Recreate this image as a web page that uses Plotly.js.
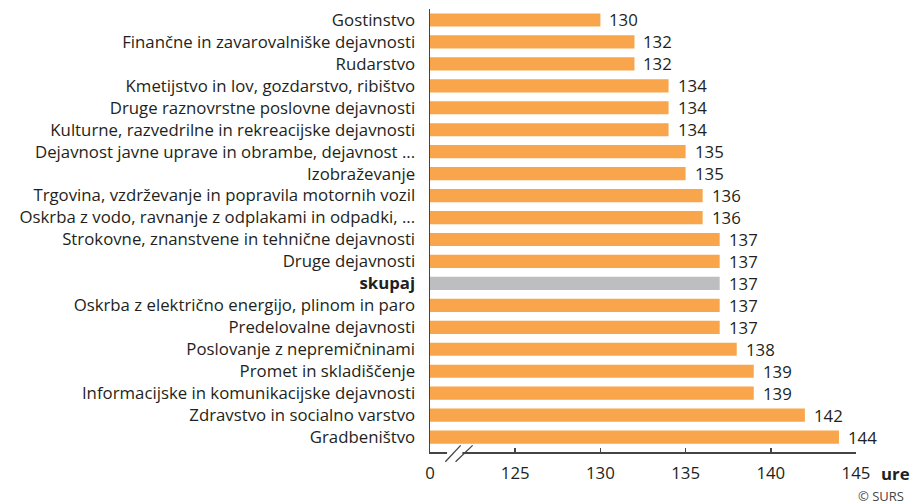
<!DOCTYPE html>
<html><head><meta charset="utf-8">
<script src="https://cdn.plot.ly/plotly-3.0.1.min.js"></script>
<style>body{margin:0;background:#fff}#c{width:910px;height:504px}</style>
</head><body><div id="c"></div>
<script>
const categories = ["Gostinstvo","Finančne in zavarovalniške dejavnosti","Rudarstvo","Kmetijstvo in lov, gozdarstvo, ribištvo","Druge raznovrstne poslovne dejavnosti","Kulturne, razvedrilne in rekreacijske dejavnosti","Dejavnost javne uprave in obrambe, dejavnost ...","Izobraževanje","Trgovina, vzdrževanje in popravila motornih vozil","Oskrba z vodo, ravnanje z odplakami in odpadki, ...","Strokovne, znanstvene in tehnične dejavnosti","Druge dejavnosti","skupaj","Oskrba z električno energijo, plinom in paro","Predelovalne dejavnosti","Poslovanje z nepremičninami","Promet in skladiščenje","Informacijske in komunikacijske dejavnosti","Zdravstvo in socialno varstvo","Gradbeništvo"];
const values = [130,132,132,134,134,134,135,135,136,136,137,137,137,137,137,138,139,139,142,144];
const tickVals = [120,125,130,135,140,145];
const tickText = ["0","125","130","135","140","145"];
const totalLabel = "skupaj";

const orange = "#F9A54B", grey = "#BDBEC0", ink = "#231F20";
const FS = 16.8;
const idx = categories.map((_, i) => i);
const colors = categories.map(c => c === totalLabel ? grey : orange);
const yText = categories.map(c => c === totalLabel ? "<b>" + c + "</b>" : c);

const trace = {
  type: "bar", orientation: "h",
  x: values, y: idx,
  marker: {color: colors, line: {width: 0}},
  hoverinfo: "skip"
};

const annotations = values.map((v, i) => ({
  x: v, y: i, xref: "x", yref: "y", text: String(v), showarrow: false,
  xanchor: "left", xshift: 7, font: {family: "Open Sans", size: FS, color: ink}
}));
annotations.push({xref: "paper", yref: "paper", x: 1, xshift: 23, y: 0, yshift: -21, text: "<b>ure</b>",
  showarrow: false, xanchor: "left", yanchor: "middle", font: {family: "Open Sans", size: FS, color: ink}});
annotations.push({xref: "paper", yref: "paper", x: 1, xshift: 50, y: 0, yshift: -44, text: "© SURS",
  showarrow: false, xanchor: "right", yanchor: "middle", font: {family: "Open Sans", size: 13, color: "#444"}});

const layout = {
  width: 910, height: 504,
  margin: {l: 430, r: 54, t: 9, b: 52},
  paper_bgcolor: "#fff", plot_bgcolor: "#fff",
  showlegend: false, bargap: 0.4,
  font: {family: "Open Sans", color: ink, size: FS},
  xaxis: {range: [120, 145], tickvals: tickVals, ticktext: tickText, showgrid: false, zeroline: false,
    showline: true, linecolor: "#444", linewidth: 1.5, ticks: "inside", ticklen: 4, tickcolor: "#444",
    tickwidth: 1.5, ticklabelstandoff: 5, tickfont: {size: FS, color: ink}, fixedrange: true},
  yaxis: {range: [19.68, -0.5], tickvals: idx, ticktext: yText, showgrid: false, zeroline: false,
    showline: true, linecolor: "#444", linewidth: 1.5, ticks: "", ticklabelstandoff: 10,
    tickfont: {size: FS, color: ink}, fixedrange: true},
  annotations: annotations,
  shapes: [
    {type: "rect", xref: "x", yref: "paper", x0: 121.0, x1: 121.9, y0: -0.02, y1: 0.01, fillcolor: "#fff", line: {width: 0}, layer: "above"},
    {type: "line", xref: "x", yref: "paper", x0: 120.9, x1: 121.8, y0: -0.022, y1: 0.015, line: {color: "#444", width: 1.3}, layer: "above"},
    {type: "line", xref: "x", yref: "paper", x0: 121.5, x1: 122.5, y0: -0.022, y1: 0.015, line: {color: "#444", width: 1.3}, layer: "above"}
  ]
};
Plotly.newPlot("c", [trace], layout, {displayModeBar: false, staticPlot: true});
</script></body></html>
